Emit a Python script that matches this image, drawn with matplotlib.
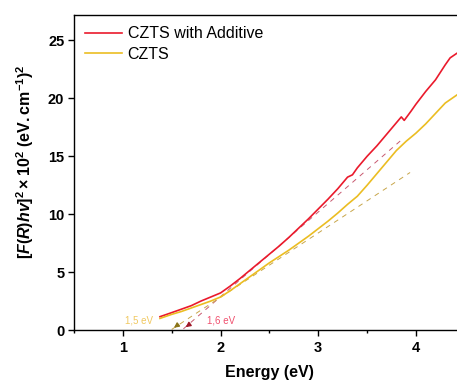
import numpy as np
import matplotlib
matplotlib.use("Agg")
import matplotlib.pyplot as plt
from matplotlib.ticker import MultipleLocator

# --- Data ---
energy_add = [1.38, 1.5, 1.6, 1.7, 1.8, 1.9, 2.0, 2.1, 2.2, 2.3, 2.4, 2.5, 2.6, 2.7,
              2.8, 2.9, 3.0, 3.1, 3.2, 3.3, 3.35, 3.4, 3.5, 3.6, 3.7, 3.8, 3.85,
              3.88, 3.95, 4.0, 4.1, 4.2, 4.3, 4.35, 4.42]
signal_add = [1.15, 1.5, 1.8, 2.1, 2.5, 2.85, 3.2, 3.8, 4.45, 5.15, 5.85, 6.55, 7.25, 8.0,
              8.8, 9.6, 10.45, 11.3, 12.2, 13.2, 13.4, 14.0, 15.0, 15.9, 16.9, 17.9, 18.4,
              18.1, 18.9, 19.5, 20.6, 21.6, 22.9, 23.5, 23.9]

energy_czts = [1.38, 1.5, 1.6, 1.7, 1.8, 1.9, 2.0, 2.1, 2.2, 2.3, 2.4, 2.5, 2.6, 2.7,
               2.8, 2.9, 3.0, 3.1, 3.2, 3.3, 3.4, 3.5, 3.6, 3.7, 3.8, 3.9, 4.0, 4.1,
               4.2, 4.3, 4.42]
signal_czts = [1.0, 1.35, 1.6, 1.9, 2.2, 2.5, 2.85, 3.4, 4.0, 4.6, 5.2, 5.8, 6.35, 6.9,
               7.5, 8.1, 8.75, 9.4, 10.1, 10.85, 11.55, 12.5, 13.5, 14.5, 15.5, 16.3, 17.0, 17.8,
               18.7, 19.6, 20.3]

# tangent (Tauc) fits: start (gap) and end points
fit_add_x = [1.62, 3.85]
fit_add_y = [0.1, 16.4]
fit_czts_x = [1.50, 3.94]
fit_czts_y = [0.05, 13.6]

gap_labels = ["1,5 eV", "1,6 eV"]

RED = "#ea1a2c"
YEL = "#ebbd22"

# --- Style ---
plt.rcParams.update({
    "font.family": ["Liberation Sans", "DejaVu Sans"],
    "mathtext.fontset": "custom",
    "mathtext.rm": "Liberation Sans:bold",
    "mathtext.it": "Liberation Sans:italic:bold",
    "mathtext.bf": "Liberation Sans:bold",
    "axes.linewidth": 1.0,
})

fig = plt.figure(figsize=(4.57, 3.82), dpi=100)
x0, x1 = 0.5, 4.6
px_per_unit = 97.7
ax_w = (x1 - x0) * px_per_unit / 457
ax = fig.add_axes([74 / 457, 1 - 330 / 382, ax_w, (330 - 15) / 382])

ax.plot(energy_add, signal_add, color=RED, lw=1.2, label="CZTS with Additive", zorder=3)
ax.plot(energy_czts, signal_czts, color=YEL, lw=1.2, label="CZTS", zorder=3)

# dashed tangents with small arrow heads at the gap
ax.plot(fit_add_x, fit_add_y, color="#c85a70", lw=0.7, ls=(0, (5, 5)), zorder=2)
ax.plot(fit_czts_x, fit_czts_y, color="#c8a64a", lw=0.7, ls=(0, (5, 5)), zorder=2)
ax.annotate("", xy=(fit_add_x[0], fit_add_y[0]), xytext=(1.70, 0.6),
            arrowprops=dict(arrowstyle="-|>", color="#a01828", lw=1.0, mutation_scale=7))
ax.annotate("", xy=(fit_czts_x[0], fit_czts_y[0]), xytext=(1.58, 0.55),
            arrowprops=dict(arrowstyle="-|>", color="#8a7418", lw=1.0, mutation_scale=7))

ax.text(1.17, 0.85, gap_labels[0], color="#f0c860", fontsize=7, ha="center", va="center")
ax.text(2.01, 0.8, gap_labels[1], color="#f0506e", fontsize=7, ha="center", va="center")

ax.set_xlim(x0, x1)
ax.set_ylim(0, 27.2)
ax.xaxis.set_major_locator(MultipleLocator(1))
ax.xaxis.set_minor_locator(MultipleLocator(0.5))
ax.yaxis.set_major_locator(MultipleLocator(5))
ax.tick_params(axis="both", which="major", direction="out", length=4, width=1.0, labelsize=10.5)
ax.tick_params(axis="x", which="minor", direction="out", length=2.5, width=1.0)
ax.tick_params(axis="x", pad=4)
ax.tick_params(axis="y", pad=3)
for lab in ax.get_xticklabels() + ax.get_yticklabels():
    lab.set_fontweight("bold")
ax.spines["right"].set_visible(False)

ax.set_xlabel("Energy (eV)", fontsize=11.5, fontweight="bold")
ax.set_ylabel(r"$[F(R)hv]^2 \times 10^2\ \mathrm{(eV.cm^{-1})^2}$", fontsize=11.5)
ax.xaxis.set_label_coords(0.489, -0.112)
ax.yaxis.set_label_coords(-0.095, 0.535)

ax.legend(loc="upper left", frameon=False, fontsize=11.5, handlelength=2.3,
          handletextpad=0.35, borderaxespad=0.3, labelspacing=0.35,
          bbox_to_anchor=(0.0, 1.0))

fig.savefig("out.png", dpi=100)
